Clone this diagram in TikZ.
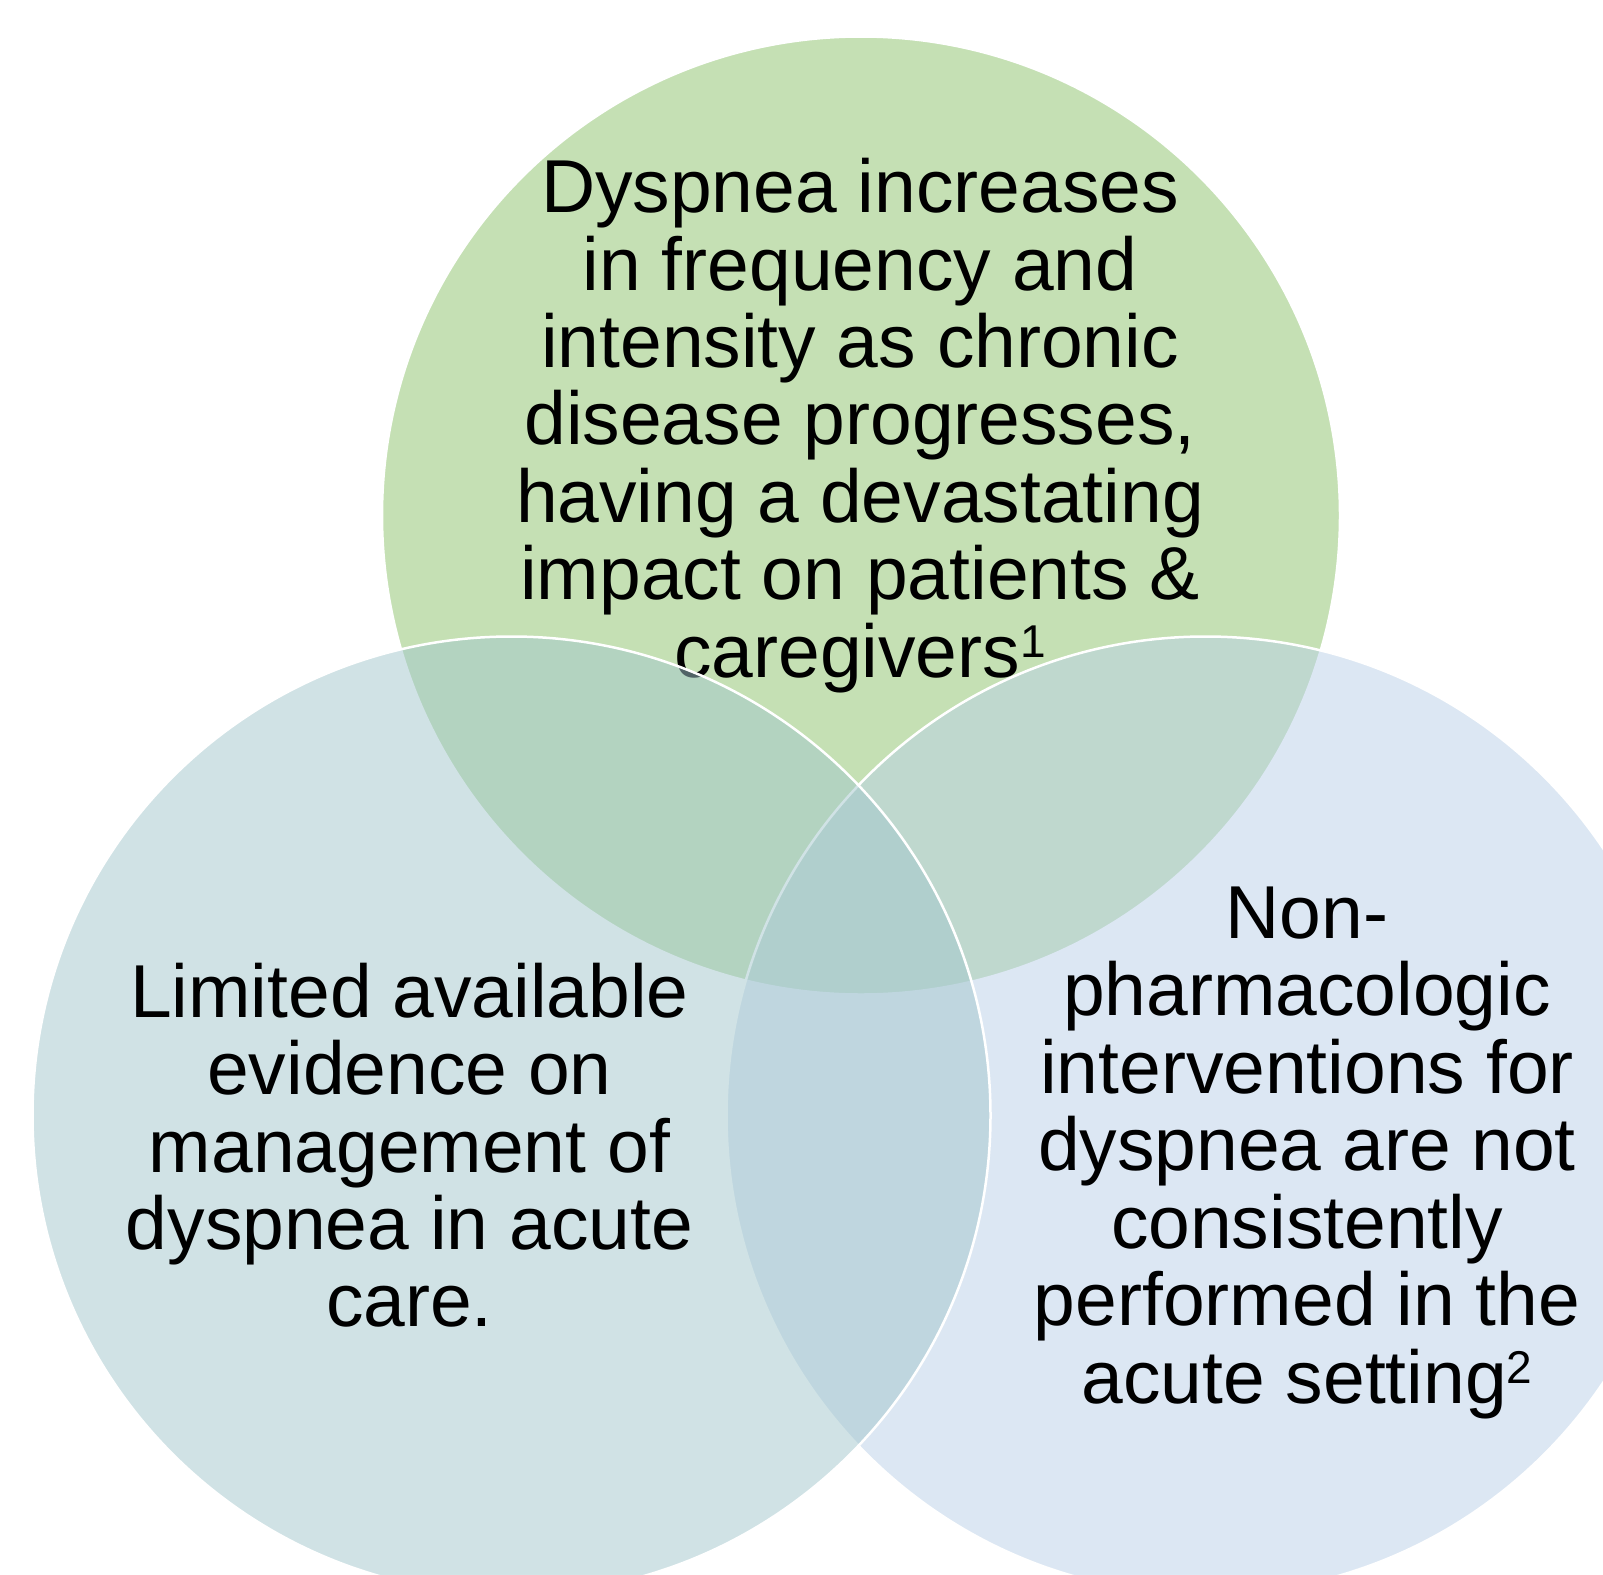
\documentclass[tikz,border=0pt]{standalone}
\usepackage{fontspec}
\setmainfont{Liberation Sans}
\definecolor{topgreen}{RGB}{197,224,180}
\definecolor{leftteal}{RGB}{163,199,205}
\definecolor{rightblue}{RGB}{187,209,233}
% raised reference number
\newcommand\refnum[1]{\raisebox{20pt}{\fontsize{46}{46}\selectfont #1}}
\begin{document}
\begin{tikzpicture}[x=1pt,y=-1pt,
  venn/.style={circle, minimum size=958pt, inner sep=0pt, draw=white, line width=2.5pt},
  lbl/.style={anchor=base, inner sep=0pt, font=\fontsize{75}{77}\selectfont}]
\useasboundingbox[fill=white] (0,0) rectangle (1603,1574);

% upper set
\node[venn, fill=topgreen] (ctop) at (861,515.5) {};
\node[lbl] (ttop) at (860,212.6) {\begin{tabular}[t]{@{}c@{}}
Dyspnea increases\\
in frequency and\\
intensity as chronic\\
disease progresses,\\
having a devastating\\
impact on patients \&\\
caregivers\refnum{1}
\end{tabular}};

% lower sets, semi-transparent
\node[venn, fill=rightblue, fill opacity=0.5] (cright) at (1205.5,1115.5) {};
\node[venn, fill=leftteal, fill opacity=0.5] (cleft) at (511.5,1115.5) {};

\node[lbl] (tleft) at (409.4,1017.2) {\begin{tabular}[t]{@{}c@{}}
Limited available\\
evidence on\\
management of\\
dyspnea in acute\\
care.
\end{tabular}};

\node[lbl] (tright) at (1307,938.5) {\begin{tabular}[t]{@{}c@{}}
Non-\\
pharmacologic\\
interventions for\\
dyspnea are not\\
consistently\\
performed in the\\
acute setting\refnum{2}
\end{tabular}};
\end{tikzpicture}
\end{document}
